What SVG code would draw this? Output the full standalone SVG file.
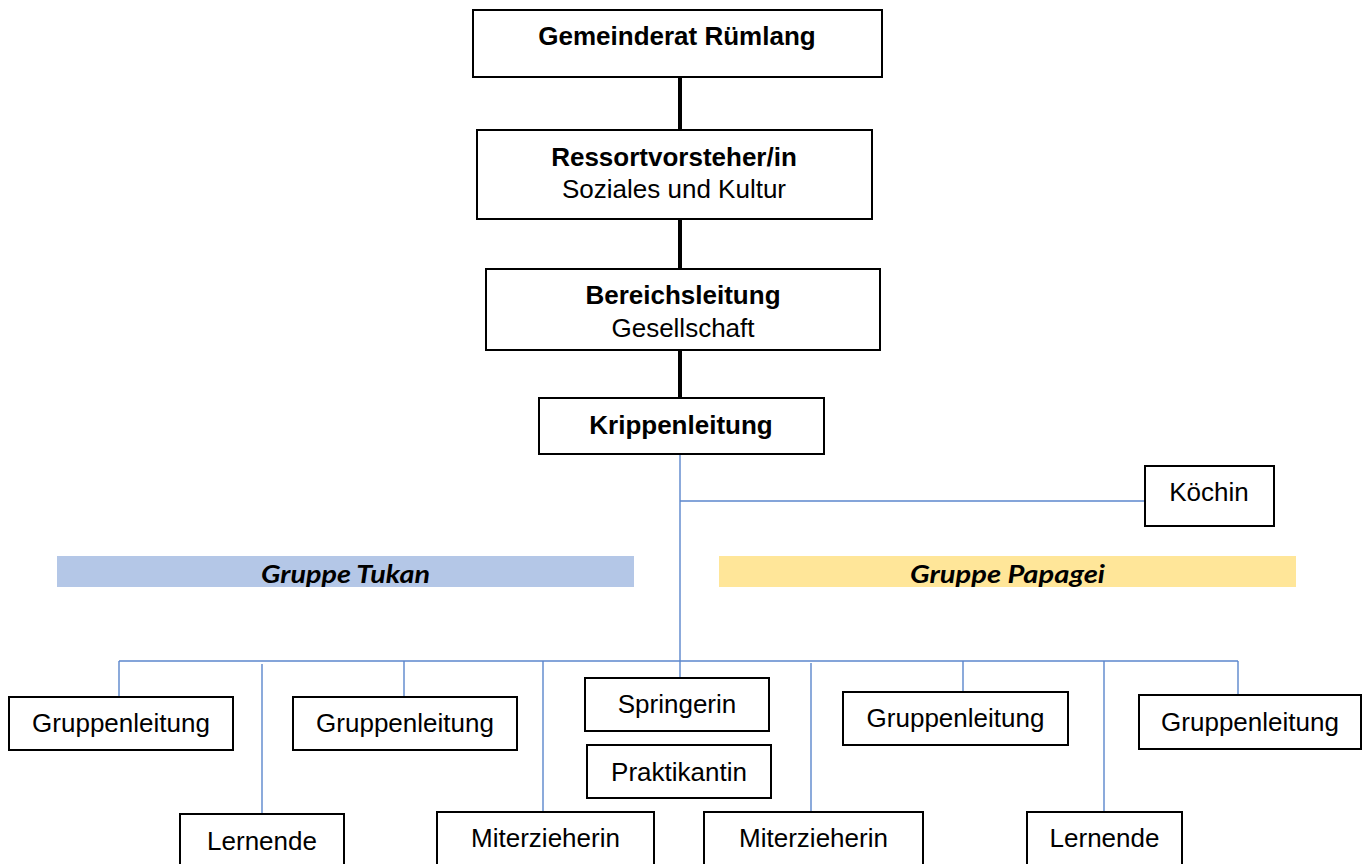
<svg xmlns="http://www.w3.org/2000/svg" width="1362" height="864" viewBox="0 0 1362 864">
<style>
.box{fill:#fff;stroke:#000;stroke-width:2}
.t{font-family:"Liberation Sans",Arial,sans-serif;font-size:26px;fill:#000;text-anchor:middle}
.b{font-weight:bold}
.thick{stroke:#000;stroke-width:4;fill:none}
.blue{stroke:#5B86CC;stroke-width:1.4;fill:none}
.grp{font-family:Lato,"Open Sans",sans-serif;font-size:25px;font-weight:bold;font-style:italic;fill:#000;text-anchor:middle}
</style>
<defs>
<clipPath id="clipT"><rect x="57" y="556" width="577" height="31"/></clipPath>
<clipPath id="clipP"><rect x="719" y="556" width="577" height="31"/></clipPath>
</defs>
<rect width="1362" height="864" fill="#fff"/>
<g id="connectors">
<line class="thick" x1="680" y1="77" x2="680" y2="131"/>
<line class="thick" x1="680" y1="219" x2="680" y2="270"/>
<line class="thick" x1="680" y1="350" x2="680" y2="398"/>
<line class="blue" x1="680" y1="455" x2="680" y2="678"/>
<line class="blue" x1="680" y1="501" x2="1145" y2="501"/>
<line class="blue" x1="119" y1="661" x2="1238" y2="661"/>
<line class="blue" x1="119" y1="661" x2="119" y2="697"/>
<line class="blue" x1="262" y1="664" x2="262" y2="814"/>
<line class="blue" x1="404" y1="661" x2="404" y2="697"/>
<line class="blue" x1="543" y1="661" x2="543" y2="812"/>
<line class="blue" x1="811" y1="663" x2="811" y2="812"/>
<line class="blue" x1="963" y1="661" x2="963" y2="692"/>
<line class="blue" x1="1104" y1="661" x2="1104" y2="812"/>
<line class="blue" x1="1238" y1="661" x2="1238" y2="695"/>
</g>
<g id="gemeinderat">
<rect class="box" x="473" y="10" width="409" height="67"/>
<text class="t b" x="677" y="45">Gemeinderat Rümlang</text>
</g>
<g id="ressort">
<rect class="box" x="477" y="130" width="395" height="89"/>
<text class="t b" x="674" y="166">Ressortvorsteher/in</text>
<text class="t" x="674" y="198">Soziales und Kultur</text>
</g>
<g id="bereich">
<rect class="box" x="486" y="269" width="394" height="81"/>
<text class="t b" x="683" y="304">Bereichsleitung</text>
<text class="t" x="683" y="337">Gesellschaft</text>
</g>
<g id="krippe">
<rect class="box" x="539" y="398" width="285" height="56"/>
<text class="t b" x="681" y="434">Krippenleitung</text>
</g>
<g id="koechin">
<rect class="box" x="1145" y="466" width="129" height="60"/>
<text class="t" x="1209" y="501">Köchin</text>
</g>
<g id="gruppe-tukan">
<rect x="57" y="556" width="577" height="31" fill="#B4C7E7"/>
<text class="grp" x="345.5" y="583" textLength="169" lengthAdjust="spacingAndGlyphs" clip-path="url(#clipT)">Gruppe Tukan</text>
</g>
<g id="gruppe-papagei">
<rect x="719" y="556" width="577" height="31" fill="#FFE699"/>
<text class="grp" x="1007.5" y="583" textLength="195" lengthAdjust="spacingAndGlyphs" clip-path="url(#clipP)">Gruppe Papagei</text>
</g>
<g id="gruppenleitung1">
<rect class="box" x="9" y="697" width="224" height="53"/>
<text class="t" x="121" y="732">Gruppenleitung</text>
</g>
<g id="lernende1">
<rect class="box" x="180" y="814" width="164" height="54"/>
<text class="t" x="262" y="850">Lernende</text>
</g>
<g id="gruppenleitung2">
<rect class="box" x="293" y="697" width="224" height="53"/>
<text class="t" x="405" y="732">Gruppenleitung</text>
</g>
<g id="miterzieherin1">
<rect class="box" x="437" y="812" width="217" height="54"/>
<text class="t" x="545.5" y="847">Miterzieherin</text>
</g>
<g id="springerin">
<rect class="box" x="585" y="678" width="184" height="53"/>
<text class="t" x="677" y="713">Springerin</text>
</g>
<g id="praktikantin">
<rect class="box" x="587" y="745" width="184" height="53"/>
<text class="t" x="679" y="781">Praktikantin</text>
</g>
<g id="miterzieherin2">
<rect class="box" x="704" y="812" width="219" height="54"/>
<text class="t" x="813.5" y="847">Miterzieherin</text>
</g>
<g id="gruppenleitung3">
<rect class="box" x="843" y="692" width="225" height="53"/>
<text class="t" x="955.5" y="727">Gruppenleitung</text>
</g>
<g id="lernende2">
<rect class="box" x="1027" y="812" width="155" height="54"/>
<text class="t" x="1104.5" y="847">Lernende</text>
</g>
<g id="gruppenleitung4">
<rect class="box" x="1139" y="695" width="222" height="54"/>
<text class="t" x="1250" y="731">Gruppenleitung</text>
</g>
</svg>
